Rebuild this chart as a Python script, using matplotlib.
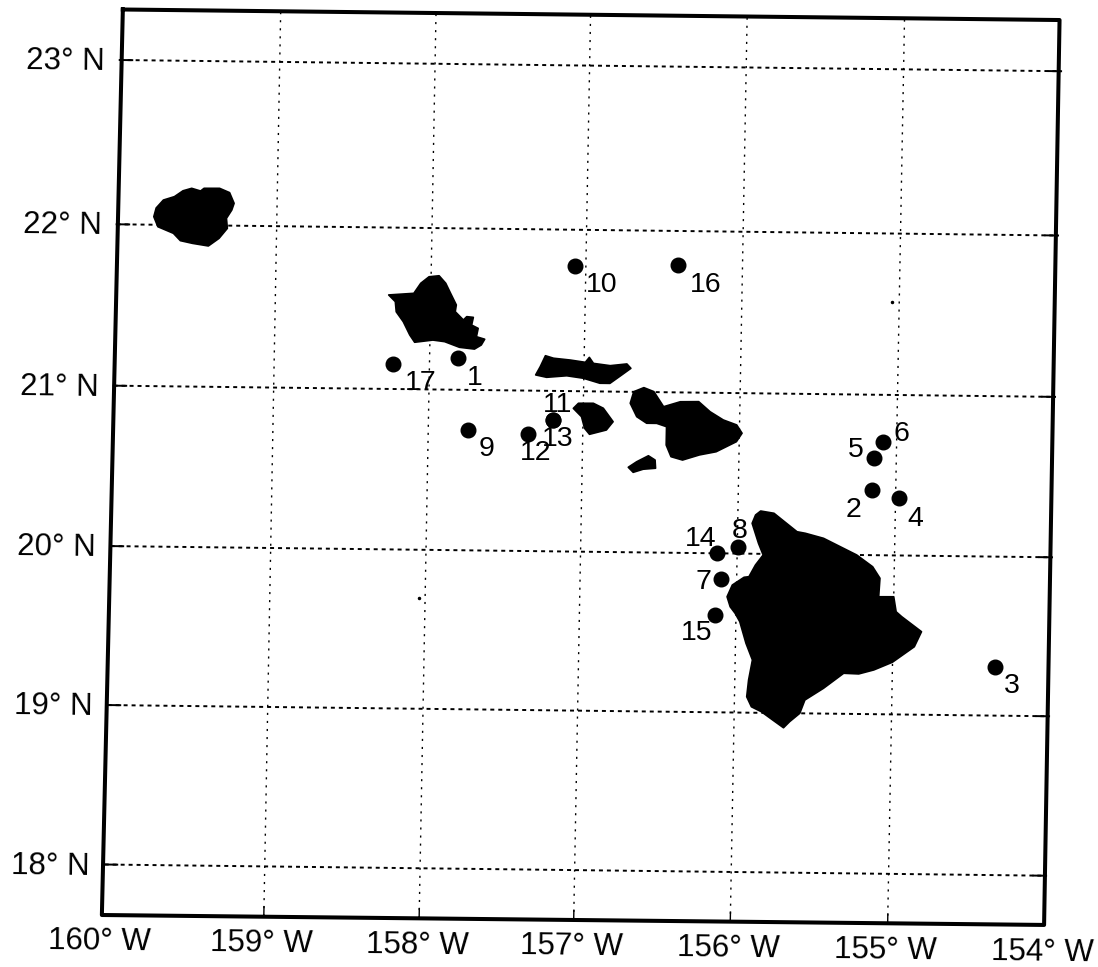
import matplotlib
matplotlib.use("Agg")
import matplotlib.pyplot as plt
from matplotlib.transforms import Affine2D

plt.rcParams['font.family'] = ['Liberation Sans', 'DejaVu Sans']

# Island outlines (lon, lat)
kauai_lon = [-159.764, -159.750, -159.705, -159.635, -159.581, -159.526, -159.469, -159.447, -159.348, -159.284,
             -159.254, -159.268, -159.301, -159.294, -159.346, -159.413, -159.514, -159.592, -159.637, -159.737]
kauai_lat = [22.029, 22.083, 22.133, 22.155, 22.192, 22.208, 22.192, 22.209, 22.210, 22.184,
             22.118, 22.076, 22.024, 21.962, 21.899, 21.851, 21.866, 21.882, 21.927, 21.967]

oahu_lon = [-158.258, -158.098, -158.055, -158.003, -157.939, -157.896, -157.864, -157.826, -157.832, -157.779,
            -157.758, -157.716, -157.726, -157.684, -157.694, -157.641, -157.662, -157.705, -157.801, -157.896,
            -157.971, -158.087, -158.119, -158.162, -158.208, -158.215]
oahu_lat = [21.560, 21.572, 21.635, 21.676, 21.683, 21.637, 21.575, 21.503, 21.461, 21.410,
            21.431, 21.427, 21.379, 21.359, 21.307, 21.292, 21.256, 21.230, 21.240, 21.274,
            21.283, 21.268, 21.313, 21.395, 21.456, 21.519]

molokai_lon = [-157.312, -157.284, -157.252, -157.200, -157.093, -156.997, -156.972, -156.945, -156.838,
               -156.732, -156.706, -156.764, -156.838, -156.902, -157.008, -157.114, -157.242]
molokai_lat = [21.074, 21.125, 21.194, 21.179, 21.169, 21.156, 21.187, 21.150, 21.137,
               21.149, 21.122, 21.080, 21.027, 21.027, 21.057, 21.071, 21.060]

lanai_lon = [-157.068, -157.036, -156.941, -156.877, -156.813, -156.855, -156.962, -156.994, -157.015]
lanai_lat = [20.869, 20.901, 20.902, 20.872, 20.789, 20.737, 20.709, 20.746, 20.818]

maui_lon = [-156.706, -156.685, -156.621, -156.557, -156.493, -156.387, -156.270, -156.196, -156.111, -156.025,
            -155.990, -156.025, -156.153, -156.259, -156.366, -156.440, -156.472, -156.472, -156.535, -156.599, -156.663]
maui_lat = [20.905, 20.977, 21.003, 20.979, 20.886, 20.918, 20.920, 20.858, 20.808, 20.778,
            20.727, 20.674, 20.610, 20.589, 20.556, 20.576, 20.648, 20.762, 20.782, 20.782, 20.822]

kahoolawe_lon = [-156.711, -156.658, -156.584, -156.541, -156.537, -156.616, -156.679]
kahoolawe_lat = [20.507, 20.542, 20.580, 20.554, 20.503, 20.496, 20.476]

hawaii_lon = [-155.915, -155.894, -155.862, -155.777, -155.723, -155.628, -155.575, -155.458, -155.245, -155.142,
              -155.094, -155.100, -155.004, -154.987, -154.951, -154.823, -154.867, -155.005, -155.122, -155.218,
              -155.314, -155.441, -155.558, -155.589, -155.653, -155.691, -155.760, -155.834, -155.898, -155.929,
              -155.919, -155.897, -155.940, -155.982, -156.013, -156.045, -156.066, -156.034, -155.960, -155.929,
              -155.889, -155.841, -155.872]
hawaii_lat = [20.168, 20.220, 20.245, 20.232, 20.191, 20.119, 20.110, 20.080, 19.979, 19.907,
              19.836, 19.721, 19.722, 19.629, 19.599, 19.507, 19.413, 19.315, 19.266, 19.240,
              19.243, 19.148, 19.074, 18.991, 18.938, 18.900, 18.947, 18.998, 19.028, 19.090,
              19.194, 19.319, 19.422, 19.556, 19.608, 19.648, 19.710, 19.783, 19.832, 19.836,
              19.909, 19.972, 20.044]

# Stations
station_ids = ['1', '2', '3', '4', '5', '6', '7', '8', '9', '10', '11', '12', '13', '14', '15', '16', '17']
station_lon = [-157.809, -155.156, -154.352, -154.985, -155.146, -155.088, -156.104, -156.000, -157.736,
               -157.076, -157.198, -157.352, -157.198, -156.133, -156.141, -156.416, -158.220]
station_lat = [21.175, 20.384, 19.291, 20.338, 20.581, 20.685, 19.818, 20.018, 20.725,
               21.754, 20.795, 20.706, 20.795, 19.979, 19.594, 21.768, 21.131]

# small specks in the scan
speck_lon = [-155.049, -158.029]
speck_lat = [21.553, 19.679]

# Frame and grid
frame_lon = [-159.986, -154.016, -154.007, -160.012, -159.986]
frame_lat = [23.314, 23.318, 17.694, 17.686, 23.314]
grid_lons = [-158.98, -157.99, -157.005, -156.007, -155.004]
grid_lats = [23.0, 21.979, 20.976, 19.979, 18.991, 18.0]
lat_labels = ['23° N', '22° N', '21° N', '20° N', '19° N', '18° N']
lon_label_pos = [-160.012, -158.98, -157.99, -157.005, -156.007, -155.004, -154.007]
lon_labels = ['160° W', '159° W', '158° W', '157° W', '156° W', '155° W', '154° W']

# pixel offsets of the station numbers from their dots
label_dx = [17, -18, 17, 17, -18, 18, -18, 1, 18, 27, 5, 7, 5, -17, -18, 27, 27]
label_dy = [-20, -20, -19, -21, 8, 8, -3, 16, -19, -19, 15, -19, -19, 14, -18, -20, -19]

fig = plt.figure(figsize=(10.98, 9.67), dpi=100)
ax = fig.add_axes([0, 0, 1, 1])
ax.set_xlim(0, 1098)
ax.set_ylim(967, 0)
ax.axis('off')

# the scan is slightly rotated, so lon/lat go through an affine map
a, b, d, e = 156.9, 3.0, 1.87, -160.9
c = 104.7 + a * 160 - b * 18
f = 864.5 + d * 160 - e * 18
geo = Affine2D(matrix=[[a, b, c], [d, e, f], [0, 0, 1]]) + ax.transData

# grid
for la in grid_lats:
    ax.plot([-160, -154], [la, la], color='k', lw=1.4, ls=(0, (2.05, 2.05)), transform=geo, zorder=1)
    ax.plot([-160, -159.92], [la, la], color='k', lw=1.4, transform=geo, zorder=1)
    ax.plot([-154.08, -154], [la, la], color='k', lw=1.4, transform=geo, zorder=1)
for lo in grid_lons:
    ax.plot([lo, lo], [17.69, 23.31], color='k', lw=1.0, ls=(0, (1.5, 4.3)), transform=geo, zorder=1)
    ax.plot([lo, lo], [17.69, 17.75], color='k', lw=1.0, transform=geo, zorder=1)

# islands
islands = [(kauai_lon, kauai_lat), (oahu_lon, oahu_lat), (molokai_lon, molokai_lat), (lanai_lon, lanai_lat),
           (maui_lon, maui_lat), (kahoolawe_lon, kahoolawe_lat), (hawaii_lon, hawaii_lat)]
for lon, lat in islands:
    ax.fill(lon, lat, color='k', lw=1.2, joinstyle='round', transform=geo, zorder=2)

ax.plot(speck_lon, speck_lat, ls='none', marker='.', ms=3, color='k', transform=geo, zorder=2)
ax.plot(station_lon, station_lat, ls='none', marker='o', ms=10.5, mfc='k', mec='k', transform=geo, zorder=3)

# frame
ax.plot(frame_lon, frame_lat, color='k', lw=2.9, solid_joinstyle='round', transform=geo, zorder=4)

# station numbers
for i, name in enumerate(station_ids):
    ax.annotate(name, (station_lon[i], station_lat[i]), xycoords=geo,
                xytext=(label_dx[i], label_dy[i]), textcoords='offset pixels',
                ha='center', va='center', fontsize=20.5, zorder=5)

# axis labels
for la, txt in zip(grid_lats, lat_labels):
    ax.annotate(txt, (-160, la), xycoords=geo, xytext=(-15, -2), textcoords='offset pixels',
                ha='right', va='center', fontsize=22.5, rotation=-0.7, rotation_mode='anchor')
for lo, txt in zip(lon_label_pos, lon_labels):
    ax.annotate(txt, (lo, 17.69), xycoords=geo, xytext=(-2, -27), textcoords='offset pixels',
                ha='center', va='center', fontsize=22.5, rotation=-0.7, rotation_mode='anchor')

fig.savefig('out.png', dpi=100)
